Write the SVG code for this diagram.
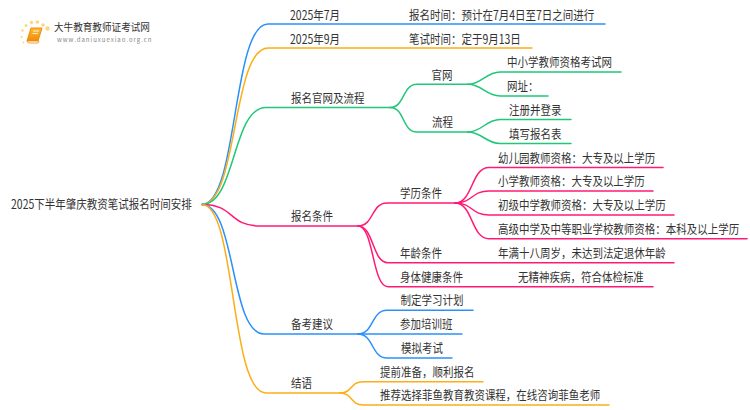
<svg xmlns="http://www.w3.org/2000/svg" width="750" height="410" viewBox="0 0 750 410">
<defs>
<linearGradient id="book" x1="0" y1="0" x2="0" y2="1"><stop offset="0" stop-color="#fdbb2d"/><stop offset="1" stop-color="#f28a0c"/></linearGradient>
</defs>
<style>
text{font-family:"Noto Sans CJK SC","Noto Sans",sans-serif;font-size:12.5px;fill:#333;transform-box:fill-box;transform-origin:0 50%;transform:scaleX(.84)}
.c{fill:none;stroke-width:1.5;stroke-linecap:round}
.b{stroke:#2b90fb}.o{stroke:#fbae17}.g{stroke:#1fc878}.p{stroke:#ff1a75}
.d{fill:#fdd77c}
</style>
<rect width="750" height="410" fill="#fff"/>
<g id="connectors">
<path class="c b" d="M202 204.5C238 204.5 232 24 268 24H605"/>
<path class="c o" d="M202 204.5C238 204.5 232 48 268 48H532"/>
<path class="c g" d="M202 204.5C236 204.5 232 107.5 266 107.5H390"/>
<path class="c p" d="M202 204.5C235 204.5 228 226 260 226H358"/>
<path class="c b" d="M202 204.5C236 204.5 230 334 264 334H358"/>
<path class="c o" d="M202 204.5C236 204.5 230 393 266 393H340"/>
<path class="c g" d="M390 107.5C405 107.5 402 84.3 417 84.3H468"/>
<path class="c g" d="M390 107.5C405 107.5 402 132 417 132H468"/>
<path class="c g" d="M468 84.3C482 84.3 486 72 500 72H621"/>
<path class="c g" d="M468 84.3C482 84.3 486 96 500 96H548"/>
<path class="c g" d="M468 132C482 132 486 119.5 500 119.5H571"/>
<path class="c g" d="M468 132C482 132 486 143.5 500 143.5H571"/>
<path class="c p" d="M358 226C374 226 371 203 387 203H455"/>
<path class="c p" d="M358 226C374 226 372 262.7 388 262.7H674"/>
<path class="c p" d="M358 226C374 226 372 286.7 388 286.7H653"/>
<path class="c p" d="M455 203C473 203 471 167.5 489 167.5H663"/>
<path class="c p" d="M455 203C473 203 471 191 489 191H653"/>
<path class="c p" d="M455 203C473 203 471 215 489 215H674"/>
<path class="c p" d="M455 203C473 203 471 238.7 489 238.7H747"/>
<path class="c b" d="M358 334C374 334 371 310.3 387 310.3H473"/>
<path class="c b" d="M358 334C374 334 371 334 387 334H462"/>
<path class="c b" d="M358 334C374 334 371 358 387 358H452"/>
<path class="c o" d="M340 393C353 393 350 381.7 363 381.7H483"/>
<path class="c o" d="M340 393C353 393 350 405 363 405H609"/>
</g>
<g id="logo">
<circle class="d" cx="47.500" cy="28.500" r="2.200"/><circle class="d" cx="43" cy="25" r="1.800"/><circle class="d" cx="37.500" cy="22" r="1.800"/><circle class="d" cx="31.500" cy="22.500" r="1.700"/><circle class="d" cx="26" cy="25.500" r="1.500"/><circle class="d" cx="22.500" cy="30.500" r="1.200"/><circle class="d" cx="21.500" cy="37" r="1"/><circle class="d" cx="23.500" cy="42.500" r="0.900"/>
<path d="M31 28H42L38 41H27Z" fill="url(#book)" stroke="#ee8a0e" stroke-width="1" stroke-linejoin="round"/>
<path d="M27 41Q27 43 30 43H38L39 41Z" fill="#fff" stroke="#ee8a0e" stroke-width="0.800"/>
<path d="M33 31H39M32.500 33.500H38" stroke="#fff" stroke-width="0.800" fill="none"/>
<text x="54" y="31.500" style="font-size:10.5px;transform:scaleX(.915)">大牛教育教师证考试网</text>
<text x="57" y="41.500" style="font-size:6px;letter-spacing:1px;fill:#888;transform:none">www.daniuxuexiao.org.cn</text>
</g>
<g id="root"><text x="11" y="209.500">2025下半年肇庆教资笔试报名时间安排</text></g>
<g id="n1"><text x="290" y="20">2025年7月</text></g>
<g id="n1a"><text x="409" y="20">报名时间：预计在7月4日至7日之间进行</text></g>
<g id="n2"><text x="290" y="44">2025年9月</text></g>
<g id="n2a"><text x="409" y="44">笔试时间：定于9月13日</text></g>
<g id="n3"><text x="291" y="103">报名官网及流程</text></g>
<g id="n3a"><text x="431.500" y="80">官网</text></g>
<g id="n3a1"><text x="507" y="67.500">中小学教师资格考试网</text></g>
<g id="n3a2"><text x="507" y="91.500">网址：</text></g>
<g id="n3b"><text x="432" y="127.500">流程</text></g>
<g id="n3b1"><text x="509" y="115">注册并登录</text></g>
<g id="n3b2"><text x="509" y="139">填写报名表</text></g>
<g id="n4"><text x="291" y="221.500">报名条件</text></g>
<g id="n4a"><text x="400" y="198.500">学历条件</text></g>
<g id="n4a1"><text x="498" y="163">幼儿园教师资格：大专及以上学历</text></g>
<g id="n4a2"><text x="498" y="186.500">小学教师资格：大专及以上学历</text></g>
<g id="n4a3"><text x="498" y="210.500">初级中学教师资格：大专及以上学历</text></g>
<g id="n4a4"><text x="498" y="234">高级中学及中等职业学校教师资格：本科及以上学历</text></g>
<g id="n4b"><text x="400" y="258">年龄条件</text></g>
<g id="n4b1"><text x="498" y="258">年满十八周岁，未达到法定退休年龄</text></g>
<g id="n4c"><text x="400" y="282">身体健康条件</text></g>
<g id="n4c1"><text x="518" y="282">无精神疾病，符合体检标准</text></g>
<g id="n5"><text x="291" y="329">备考建议</text></g>
<g id="n5a"><text x="400.500" y="305.500">制定学习计划</text></g>
<g id="n5b"><text x="400" y="329.500">参加培训班</text></g>
<g id="n5c"><text x="401" y="353.500">模拟考试</text></g>
<g id="n6"><text x="291" y="388.500">结语</text></g>
<g id="n6a"><text x="380" y="377">提前准备，顺利报名</text></g>
<g id="n6b"><text x="380" y="400.500">推荐选择菲鱼教育教资课程，在线咨询菲鱼老师</text></g>
</svg>
